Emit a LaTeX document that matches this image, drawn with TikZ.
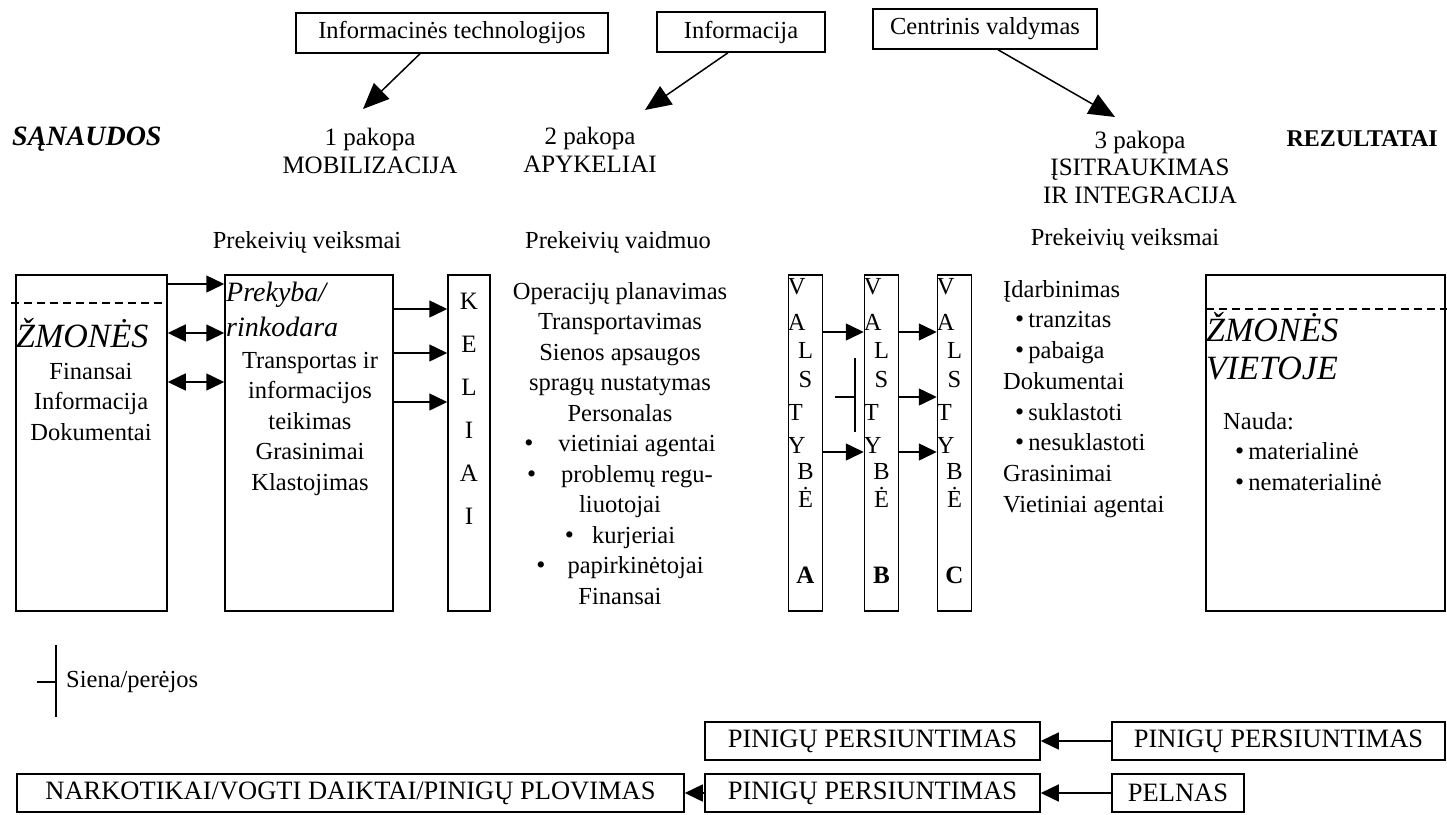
\documentclass[tikz,border=0pt]{standalone}
\usepackage{fontspec}
\setmainfont{Liberation Serif}
\usetikzlibrary{arrows.meta}
\tikzset{
    box/.style={
        draw,
        line width=1.5pt,
        inner sep=0,
    },
    tallbox/.style={
        box,
        minimum height=336pt,
    },
    txt/.style={
        inner sep=0,
        font=\fontsize{24.5}{30.5}\selectfont,
    },
    caps/.style={
        inner sep=0,
        font=\fontsize{26.5}{30}\selectfont,
    },
    list/.style={
        txt,
        align=center,
        anchor=north,
    },
    arr/.style={
        line width=1.5pt,
        -{Triangle[length=18pt,width=17pt]},
    },
    darr/.style={
        line width=1.5pt,
        {Triangle[length=18pt,width=17pt]}-{Triangle[length=18pt,width=17pt]},
    },
    bigarr/.style={
        line width=1.5pt,
        -{Triangle[length=26pt,width=22pt]},
    },
    dashline/.style={
        line width=1.5pt,
        dash pattern=on 8pt off 5pt,
    },
}
\newcommand\blt{{\fontsize{26}{26}\selectfont\textbullet}}

\begin{document}
\begin{tikzpicture}[x=1pt, y=-1pt]
    \useasboundingbox (0,0) rectangle (1447,814);

    \node[box, txt, minimum width=312pt, minimum height=40pt] at (452,33) (itbox) {Informacinės technologijos};
    \node[box, txt, minimum width=168pt, minimum height=40pt] at (741,32) (infobox) {Informacija};
    \node[box, txt, minimum width=224pt, minimum height=40pt] at (985,29) (cvbox) {Centrinis valdymas};

    \coordinate (tip1) at (363,109);
    \coordinate (tip2) at (645,110);
    \coordinate (tip3) at (1115,117);
    \draw[bigarr] ([xshift=-32pt]itbox.south) -- (tip1);
    \draw[bigarr] ([xshift=-13pt]infobox.south) -- (tip2);
    \draw[bigarr] ([xshift=13pt]cvbox.south) -- (tip3);

    \node[inner sep=0, font=\bfseries\itshape\fontsize{28}{30}\selectfont, anchor=west] at (12,139) (inputs) {SĄNAUDOS};
    \node[txt, align=center, font=\fontsize{25}{27.5}\selectfont] at (370,151) (stage1) {1 pakopa\\MOBILIZACIJA};
    \node[txt, align=center, font=\fontsize{25}{27.5}\selectfont] at (590,150) (stage2) {2 pakopa\\APYKELIAI};
    \node[txt, align=center, font=\fontsize{25}{27.5}\selectfont] at (1140,167) (stage3) {3 pakopa\\ĮSITRAUKIMAS\\IR INTEGRACIJA};
    \node[inner sep=0, font=\bfseries\fontsize{24}{28}\selectfont, anchor=east] at (1438,139) (outputs) {REZULTATAI};

    \node[txt] at (307,242) (act1) {Prekeivių veiksmai};
    \node[txt] at (618,242) (role2) {Prekeivių vaidmuo};
    \node[txt] at (1125,239) (act3) {Prekeivių veiksmai};

    \node[tallbox, minimum width=151pt] at (91.5,443) (zmbox) {};
    \node[tallbox, minimum width=168pt] at (309,443) (mobbox) {};
    \node[tallbox, minimum width=42pt] at (469,443) (kelbox) {};
    \node[tallbox, minimum width=239pt] at (1325.5,443) (vietbox) {};

    \draw[dashline] (11,303) -- (168,303);
    \draw[dashline] (1206,309) -- (1447,309);

    \node[inner sep=0, font=\itshape\fontsize{34}{38}\selectfont, anchor=west] at (16,333) (zmtitle) {ŽMONĖS};
    \node[list] at (91,363) (zmlist) {Finansai\\Informacija\\Dokumentai};
    \node[inner sep=0, font=\itshape\fontsize{28}{35}\selectfont, align=left, anchor=north west] at (226,282) (mobtitle) {Prekyba/\\rinkodara};
    \node[list] at (310,352) (moblist) {Transportas ir\\informacijos\\teikimas\\Grasinimai\\Klastojimas};
    \node[list, font=\fontsize{25}{43}\selectfont] at (469,293) (kelword) {K\\E\\L\\I\\A\\I};
    \node[list] at (620,282) (rolelist) {Operacijų planavimas\\Transportavimas\\Sienos apsaugos\\spragų nustatymas\\Personalas\\\blt\hspace{25pt}vietiniai agentai\\\blt\hspace{25pt}problemų regu-\\liuotojai\\\blt\hspace{18pt}kurjeriai\\\blt\hspace{22pt}papirkinėtojai\\Finansai};

    \node[txt, align=left, anchor=north west, font=\fontsize{24.5}{30.7}\selectfont] at (1003,280) (actlist) {Įdarbinimas\\\hspace*{12pt}\blt\,tranzitas\\\hspace*{12pt}\blt\,pabaiga\\Dokumentai\\\hspace*{12pt}\blt\,suklastoti\\\hspace*{12pt}\blt\,nesuklastoti\\Grasinimai\\Vietiniai agentai};

    \node[inner sep=0, font=\itshape\fontsize{34}{38}\selectfont, align=left, anchor=north west] at (1206,312) (viettitle) {ŽMONĖS\\VIETOJE};
    \node[txt, align=left, anchor=north west] at (1223,412) (benefit) {Nauda:\\\hspace*{12pt}\blt\,materialinė\\\hspace*{12pt}\blt\,nematerialinė};

    \draw[arr] (zmbox.east |- 0,284) -- (mobbox.west |- 0,284);
    \draw[darr] (zmbox.east |- 0,333) -- (mobbox.west |- 0,333);
    \draw[darr] (zmbox.east |- 0,382) -- (mobbox.west |- 0,382);
    \foreach \y in {309,353,402}
        \draw[arr] (mobbox.east |- 0,\y) -- (kelbox.west |- 0,\y);

    \foreach \xx/\n/\l in {805.5/va/A, 881.5/vb/B, 954.5/vc/C} {
        \node[tallbox, minimum width=34pt] at (\xx,443) (\n) {};
        \foreach \ch/\yy/\an [count=\i] in {V/287/west, A/322/west, L/350/center, S/380/center, T/412/west, Y/445/west, B/472/center, Ė/497/center}
            \node[txt, anchor=\an] at (\n.\an |- 0,\yy) (\n-\i) {\ch};
        \node[inner sep=0, font=\bfseries\fontsize{25}{30}\selectfont] at (\xx,575) (\n-tag) {\l};
    }
    \foreach \y in {332,452}
        \draw[arr] (va.east |- 0,\y) -- (vb.west |- 0,\y);
    \foreach \y in {332,397,452}
        \draw[arr] (vb.east |- 0,\y) -- (vc.west |- 0,\y);
    \draw[line width=1.5pt] (855,358) -- (855,432) (835,397) -- (855,397);

    \draw[line width=1.5pt] (56,645) -- (56,717) (37,682) -- (56,682);
    \node[txt, anchor=west] at (66,682) (legend) {Siena/perėjos};

    \node[box, caps, minimum width=335pt, minimum height=38pt] at (872.5,741) (pp1) {PINIGŲ PERSIUNTIMAS};
    \node[box, caps, minimum width=333pt, minimum height=38pt] at (1278.5,741) (pp2) {PINIGŲ PERSIUNTIMAS};
    \node[box, caps, minimum width=335pt, minimum height=38pt] at (872.5,793) (pp3) {PINIGŲ PERSIUNTIMAS};
    \node[box, caps, minimum width=132pt, minimum height=38pt] at (1178,793) (profit) {PELNAS};
    \node[box, caps, minimum width=667pt, minimum height=38pt] at (350.5,793) (drugs) {NARKOTIKAI/VOGTI DAIKTAI/PINIGŲ PLOVIMAS};

    \draw[arr] (pp2) -- (pp1);
    \draw[arr] (profit) -- (pp3);
    \draw[arr] (pp3) -- (drugs);
\end{tikzpicture}
\end{document}
